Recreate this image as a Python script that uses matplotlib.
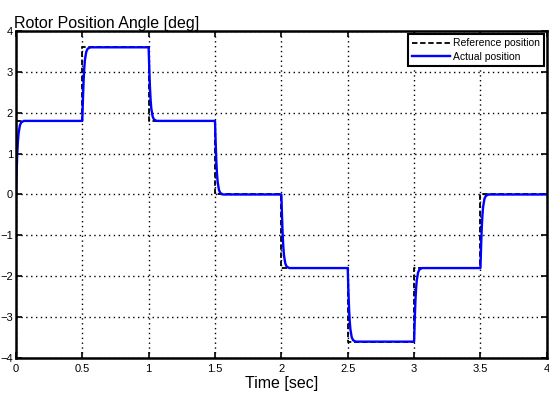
import numpy as np
import matplotlib
matplotlib.use("Agg")
from matplotlib import pyplot as plt

## Data ##

# step times and reference levels (deg)
step_times = [0.0, 0.5, 1.0, 1.5, 2.0, 2.5, 3.0, 3.5]
ref_levels = [1.8, 3.6, 1.8, 0.0, -1.8, -3.6, -1.8, 0.0]
t_end = 4.0

# shape of actual response after each step
resp_delay = [0.0, 0.005, 0.01, 0.015, 0.02, 0.03, 0.04, 0.06]
resp_frac = [0.0, 0.3, 0.55, 0.72, 0.83, 0.94, 0.98, 1.0]

x_ticks = [0, 0.5, 1, 1.5, 2, 2.5, 3, 3.5, 4]
x_ticklabels = ['0', '0.5', '1', '1.5', '2', '2.5', '3', '3.5', '4']
y_ticks = [-4, -3, -2, -1, 0, 1, 2, 3, 4]

## Build curves ##

ref_t = [0.0]
ref_y = [0.0]
for i, ts in enumerate(step_times):
    ref_t += [ts]
    ref_y += [ref_levels[i]]
    te = step_times[i + 1] if i + 1 < len(step_times) else t_end
    ref_t += [te]
    ref_y += [ref_levels[i]]

act_t = []
act_y = []
prev = 0.0
for i, ts in enumerate(step_times):
    te = step_times[i + 1] if i + 1 < len(step_times) else t_end
    for d, f in zip(resp_delay, resp_frac):
        act_t.append(ts + d)
        act_y.append(prev + (ref_levels[i] - prev) * f)
    act_t.append(te)
    act_y.append(ref_levels[i])
    prev = ref_levels[i]

## Plot ##

plt.rcParams['font.family'] = ['Liberation Sans', 'DejaVu Sans']

fig = plt.figure(figsize=(5.49, 3.94), dpi=100)
ax = fig.add_axes([0.029, 0.0914, 0.967, 0.830])

ax.plot(ref_t, ref_y, color='black', linestyle=(0, (3, 1.5)), linewidth=1.3, label='Reference position')
ax.plot(act_t, act_y, color='#0000ff', linewidth=1.7, label='Actual position')

ax.set_xlim(0, 4)
ax.set_ylim(-4, 4)
ax.set_xticks(x_ticks)
ax.set_xticklabels(x_ticklabels)
ax.set_yticks(y_ticks)
ax.grid(True, color='black', linestyle=(0, (1, 2.5)), linewidth=1.0)
ax.tick_params(direction='in', length=4, width=1.2, labelsize=8, top=True, right=True)
ax.tick_params(axis='x', pad=4)
ax.tick_params(axis='y', pad=2)
for s in ax.spines.values():
    s.set_linewidth(1.8)

ax.set_title('Rotor Position Angle [deg]', loc='left', fontsize=11.5, pad=2, x=-0.003)
ax.set_xlabel('Time [sec]', fontsize=11.5, labelpad=2)

leg = ax.legend(loc='upper right', fontsize=7.5, fancybox=False, framealpha=1,
                edgecolor='black', borderaxespad=0.3, handlelength=3.6,
                handletextpad=0.3, labelspacing=0.35, borderpad=0.4)
leg.get_frame().set_linewidth(1.5)

plt.savefig('out.png', dpi=100)
plt.close()
